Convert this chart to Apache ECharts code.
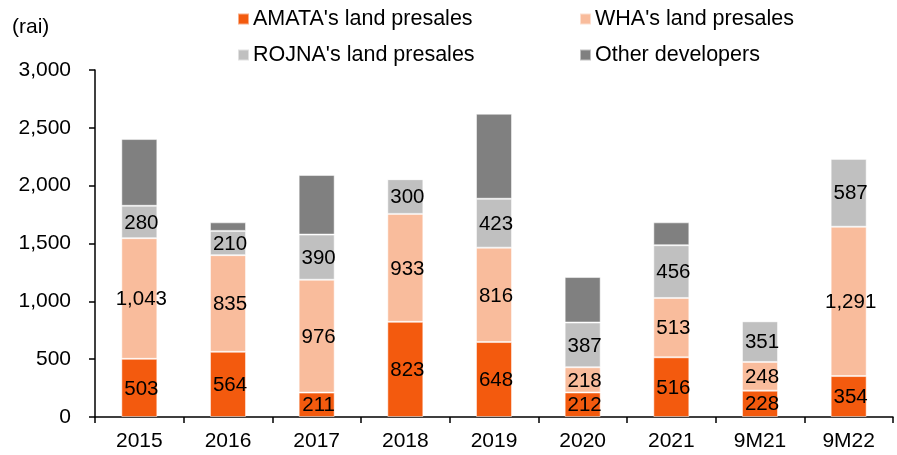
<!DOCTYPE html>
<html><head><meta charset="utf-8">
<script src="https://cdn.jsdelivr.net/npm/echarts@6/dist/echarts.min.js"></script>
<style>html,body{margin:0;padding:0;background:#fff}#c{width:897px;height:455px}</style>
</head><body><div id="c"></div>
<script>
var categories = ['2015','2016','2017','2018','2019','2020','2021','9M21','9M22'];
var amata = [503,564,211,823,648,212,516,228,354];
var wha = [1043,835,976,933,816,218,513,248,1291];
var rojna = [280,210,390,300,423,387,456,351,587];
var other = [577,74,515,0,735,393,198,0,0];
var yTicks = [0,500,1000,1500,2000,2500,3000];
var names = ["AMATA's land presales","WHA's land presales","ROJNA's land presales","Other developers"];
var colors = ['#F35A0E','#F9BC9C','#C0C0C0','#808080'];

var font = 'Liberation Sans, Arial, sans-serif';
function fmt(v){return v.toLocaleString('en-US');}
var seriesData = [amata, wha, rojna, other];
var series = seriesData.map(function(d,i){
  return {
    name: names[i], type:'bar', stack:'s', data:d, barWidth:36,
    itemStyle:{color:colors[i], borderColor:'rgba(255,255,255,0.5)', borderWidth:1},
    label:{show:i<3, position:'inside', offset:[2,1], color:'#000', fontSize:20.5, fontFamily:font,
      formatter:function(p){return fmt(p.value);}},
    emphasis:{disabled:true}
  };
});
var legendPos = [[232,3],[574,3],[232,39],[574,39]];
var legends = names.map(function(n,i){
  return {data:[n], left:legendPos[i][0], top:legendPos[i][1], itemWidth:11, itemHeight:11, itemGap:5,
    icon:'rect', textStyle:{fontSize:21.5, fontFamily:font, color:'#000', padding:[0,0,0,-1]}, selectedMode:false};
});
var chart = echarts.init(document.getElementById('c'), null, {renderer:'canvas'});
chart.setOption({
  animation:false,
  color:colors,
  legend:legends,
  grid:{left:95, right:4, top:70, bottom:38, containLabel:false},
  graphic:[{type:'text', left:12, top:17, style:{text:'(rai)', fontSize:21, fontFamily:font, fill:'#000'}}],
  xAxis:{type:'category', data:categories,
    axisLine:{lineStyle:{color:'#000', width:1.5}},
    axisTick:{show:true, length:6, alignWithLabel:false, lineStyle:{color:'#000', width:1.5}},
    axisLabel:{color:'#000', fontSize:21, fontFamily:font, margin:14}},
  yAxis:{type:'value', min:yTicks[0], max:yTicks[yTicks.length-1], interval:500,
    splitLine:{show:false},
    axisLine:{show:true, lineStyle:{color:'#000', width:1.5}},
    axisTick:{show:true, length:6, lineStyle:{color:'#000', width:1.5}},
    axisLabel:{color:'#000', fontSize:21, fontFamily:font, margin:24, formatter:function(v){return fmt(v);}}},
  series:series
});
</script></body></html>
